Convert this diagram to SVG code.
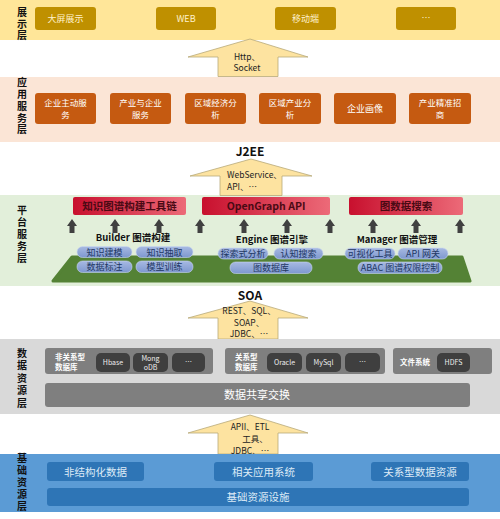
<svg xmlns="http://www.w3.org/2000/svg" width="500" height="519" viewBox="0 0 500 519">
<defs>
<linearGradient id="red" x1="0" y1="0" x2="1" y2="0">
<stop offset="0" stop-color="#C8102E"/>
<stop offset="1" stop-color="#EC6A78"/>
</linearGradient>
<linearGradient id="pill" x1="0" y1="0" x2="0" y2="1">
<stop offset="0" stop-color="#A7B9E2"/>
<stop offset="1" stop-color="#7E98CF"/>
</linearGradient>
<clipPath id="c3"><rect x="0" y="0" width="500" height="339"/></clipPath>
<clipPath id="c4"><rect x="0" y="0" width="500" height="454"/></clipPath>
<style>
text{font-family:"Noto Sans CJK SC","Noto Sans",sans-serif;}
.lbl{font-size:10px;font-weight:bold;fill:#111;writing-mode:vertical-rl;text-orientation:upright;}
.y{fill:#BF9000;}
.yt{font-size:9px;fill:#FFF2CC;text-anchor:middle;}
.o{fill:#C55A11;}
.ot{font-size:8.5px;fill:#fff;text-anchor:middle;}
.big{fill:#FDE3A0;stroke:#B8A97A;stroke-width:0.8;}
.bt{font-size:8.5px;fill:#222;text-anchor:middle;}
.hd{font-size:12px;font-weight:bold;fill:#111;text-anchor:middle;}
.rb{fill:url(#red);}
.rt{font-size:10.5px;font-weight:bold;fill:#4A0A14;text-anchor:middle;}
.sa{fill:#404040;}
.sub{font-size:9.5px;font-weight:bold;fill:#111;text-anchor:middle;}
.p{fill:url(#pill);stroke:#C9D6EE;stroke-width:0.6;}
.pt{font-size:9px;fill:#1F3864;text-anchor:middle;}
.g{fill:#7F7F7F;}
.cy{fill:#3F3F3F;}
.gt{font-size:7px;fill:#eee;text-anchor:middle;}
.gl{font-size:7.5px;font-weight:bold;fill:#fff;}
.bb{fill:#2E75B6;}
.btx{font-size:10.5px;fill:#DDEBF7;text-anchor:middle;}
</style>
</defs>

<!-- layer backgrounds -->
<g id="layer-display">
<rect x="0" y="0" width="500" height="40" fill="#FFE699"/>
<text class="lbl" x="22" y="7" style="letter-spacing:1.75px">展示层</text>
</g>
<g id="layer-app">
<rect x="0" y="77" width="500" height="65" fill="#FBE5D6"/>
<text class="lbl" x="22" y="77.5" style="letter-spacing:1.75px">应用服务层</text>
</g>
<g id="layer-platform">
<rect x="0" y="195" width="500" height="91" fill="#E2EFDA"/>
<text class="lbl" x="22" y="205" style="letter-spacing:2px">平台服务层</text>
<polygon points="72,257 462,257 470,281 53,281" fill="#548235" stroke="#548235" stroke-width="3" stroke-linejoin="round"/>
</g>
<g id="layer-data">
<rect x="0" y="339" width="500" height="75" fill="#D9D9D9"/>
<text class="lbl" x="22" y="348" style="letter-spacing:2.5px">数据资源层</text>
</g>
<g id="layer-base">
<rect x="0" y="454" width="500" height="58" fill="#5B9BD5"/>
<text class="lbl" x="22" y="453" style="letter-spacing:2px">基础资源层</text>
</g>

<!-- display layer nodes -->
<g id="n-dapin"><rect class="y" x="35" y="7" width="61" height="23" rx="3"/><text class="yt" x="65.5" y="22">大屏展示</text></g>
<g id="n-web"><rect class="y" x="156" y="7" width="60" height="23" rx="3"/><text class="yt" x="186" y="22">WEB</text></g>
<g id="n-mobile"><rect class="y" x="275" y="7" width="61" height="23" rx="3"/><text class="yt" x="305.5" y="22">移动端</text></g>
<g id="n-more1"><rect class="y" x="396" y="7" width="60" height="23" rx="3"/><text class="yt" x="426" y="21">…</text></g>

<!-- application layer nodes -->
<g id="n-app1"><rect class="o" x="35" y="93" width="61" height="31" rx="3"/><text class="ot" x="65.5" y="105.5">企业主动服<tspan x="65.5" dy="12.5">务</tspan></text></g>
<g id="n-app2"><rect class="o" x="110" y="93" width="61" height="31" rx="3"/><text class="ot" x="140.5" y="105.5">产业与企业<tspan x="140.5" dy="12.5">服务</tspan></text></g>
<g id="n-app3"><rect class="o" x="185" y="93" width="61" height="31" rx="3"/><text class="ot" x="215.5" y="105.5">区域经济分<tspan x="215.5" dy="12.5">析</tspan></text></g>
<g id="n-app4"><rect class="o" x="259" y="93" width="62" height="31" rx="3"/><text class="ot" x="290" y="105.5">区域产业分<tspan x="290" dy="12.5">析</tspan></text></g>
<g id="n-app5"><rect class="o" x="334" y="93" width="62" height="31" rx="3"/><text class="ot" x="365" y="112" style="font-size:9px">企业画像</text></g>
<g id="n-app6"><rect class="o" x="409" y="93" width="62" height="31" rx="3"/><text class="ot" x="440" y="105.5">产业精准招<tspan x="440" dy="12.5">商</tspan></text></g>

<!-- platform layer nodes -->
<g id="n-toolchain"><rect class="rb" x="73" y="197" width="113" height="18" rx="2"/><text class="rt" x="129.5" y="210">知识图谱构建工具链</text></g>
<g id="n-opengraph"><rect class="rb" x="202" y="197" width="128" height="18" rx="2"/><text class="rt" x="266" y="210">OpenGraph API</text></g>
<g id="n-search"><rect class="rb" x="349" y="197" width="114" height="18" rx="2"/><text class="rt" x="406" y="210">图数据搜索</text></g>

<g id="n-builder">
<text class="sub" x="133" y="241">Builder 图谱构建</text>
<rect class="p" x="77" y="246.5" width="55" height="11" rx="5.5"/><text class="pt" x="104.5" y="255.5">知识建模</text>
<rect class="p" x="136" y="246.5" width="57" height="11" rx="5.5"/><text class="pt" x="164.5" y="255.5">知识抽取</text>
<rect class="p" x="77" y="261" width="55" height="11.5" rx="5.5"/><text class="pt" x="104.5" y="270">数据标注</text>
<rect class="p" x="136" y="261" width="57" height="11.5" rx="5.5"/><text class="pt" x="164.5" y="270">模型训练</text>
</g>
<g id="n-engine">
<text class="sub" x="272" y="243">Engine 图谱引擎</text>
<rect class="p" x="218" y="248" width="50" height="11" rx="5.5"/><text class="pt" x="243" y="257">探索式分析</text>
<rect class="p" x="274" y="248" width="49" height="11" rx="5.5"/><text class="pt" x="298.5" y="257">认知搜索</text>
<rect class="p" x="230" y="262" width="82" height="11.5" rx="5.5"/><text class="pt" x="271" y="271">图数据库</text>
</g>
<g id="n-manager">
<text class="sub" x="397" y="243">Manager 图谱管理</text>
<rect class="p" x="345" y="248" width="50" height="11" rx="5.5"/><text class="pt" x="370" y="257">可视化工具</text>
<rect class="p" x="398" y="248" width="50" height="11" rx="5.5"/><text class="pt" x="423" y="257">API 网关</text>
<rect class="p" x="358" y="262" width="84" height="11.5" rx="5.5"/><text class="pt" x="400" y="271">ABAC 图谱权限控制</text>
</g>

<!-- data layer nodes -->
<g id="n-nosql">
<rect class="g" x="45" y="348" width="168" height="26" rx="3"/>
<text class="gl" x="55" y="360">非关系型<tspan x="55" dy="10">数据库</tspan></text>
<rect class="cy" x="96" y="353" width="34" height="19" rx="5"/><text class="gt" x="113" y="365">Hbase</text>
<rect class="cy" x="133" y="353" width="35" height="19" rx="5"/><text class="gt" x="150.5" y="361">Mong<tspan x="150.5" dy="9">oDB</tspan></text>
<rect class="cy" x="172" y="353" width="33" height="19" rx="5"/><text class="gt" x="188.5" y="364">…</text>
</g>
<g id="n-sql">
<rect class="g" x="225" y="348" width="160" height="26" rx="3"/>
<text class="gl" x="235" y="360">关系型<tspan x="235" dy="10">数据库</tspan></text>
<rect class="cy" x="267" y="353" width="35" height="19" rx="5"/><text class="gt" x="284.5" y="365">Oracle</text>
<rect class="cy" x="306" y="353" width="35" height="19" rx="5"/><text class="gt" x="323.5" y="365">MySql</text>
<rect class="cy" x="345" y="353" width="35" height="19" rx="5"/><text class="gt" x="362.5" y="364">…</text>
</g>
<g id="n-fs">
<rect class="g" x="393" y="348" width="99" height="26" rx="3"/>
<text class="gl" x="400" y="365">文件系统</text>
<rect class="cy" x="437" y="353" width="33" height="19" rx="5"/><text class="gt" x="453.5" y="365">HDFS</text>
</g>
<g id="n-exchange"><rect class="g" x="45" y="383" width="425" height="24" rx="3"/><text x="257" y="399" style="font-size:11px;fill:#fff;text-anchor:middle">数据共享交换</text></g>

<!-- base layer nodes -->
<g id="n-unstruct"><rect class="bb" x="47" y="462" width="97" height="19" rx="3"/><text class="btx" x="95.5" y="475.5">非结构化数据</text></g>
<g id="n-related"><rect class="bb" x="214" y="462" width="99" height="19" rx="3"/><text class="btx" x="263.5" y="475.5">相关应用系统</text></g>
<g id="n-relres"><rect class="bb" x="371" y="462" width="98" height="19" rx="3"/><text class="btx" x="420" y="475.5">关系型数据资源</text></g>
<g id="n-infra"><rect class="bb" x="47" y="488" width="422" height="18" rx="3"/><text class="btx" x="258" y="501">基础资源设施</text></g>

<!-- connectors -->
<g id="connectors">
<g id="a1">
<path class="big" d="M250,39 L308,57 L278,57 L278,76.5 L218,76.5 L218,57 L188,57 Z"/>
<text class="bt" x="247" y="60">Http、<tspan x="247" dy="11">Socket</tspan></text>
</g>
<text class="hd" x="250" y="156">J2EE</text>
<g id="a2">
<path class="big" d="M251,159 L312,176 L282,176 L282,195.5 L220,195.5 L220,176 L190,176 Z"/>
<text class="bt" x="227" y="178" style="text-anchor:start">WebService、<tspan x="227" dy="12">API、…</tspan></text>
</g>
<text class="hd" x="250" y="300">SOA</text>
<g id="a3" clip-path="url(#c3)">
<path class="big" d="M250,301 L308,318 L278,318 L278,339 L218,339 L218,318 L188,318 Z"/>
<text class="bt" x="249" y="314">REST、SQL、<tspan x="249" dy="11.5">SOAP、</tspan><tspan x="249" dy="11.5">JDBC、…</tspan></text>
</g>
<g id="a4" clip-path="url(#c4)">
<path class="big" d="M250,415 L308,433 L278,433 L278,454 L218,454 L218,433 L188,433 Z"/>
<text class="bt" x="250" y="430">APII、ETL<tspan x="255" dy="12">工具、</tspan><tspan x="250" dy="12">JDBC、…</tspan></text>
</g>
<g id="small-arrows" class="sa">
<path d="M72,219 L77,226 L74.5,226 L74.5,233 L69.5,233 L69.5,226 L67,226 Z"/>
<path d="M115,219 L120,226 L117.5,226 L117.5,233 L112.5,233 L112.5,226 L110,226 Z"/>
<path d="M159,219 L164,226 L161.5,226 L161.5,233 L156.5,233 L156.5,226 L154,226 Z"/>
<path d="M200,219 L205,226 L202.5,226 L202.5,233 L197.5,233 L197.5,226 L195,226 Z"/>
<path d="M244,219 L249,226 L246.5,226 L246.5,233 L241.5,233 L241.5,226 L239,226 Z"/>
<path d="M287,219 L292,226 L289.5,226 L289.5,233 L284.5,233 L284.5,226 L282,226 Z"/>
<path d="M330,219 L335,226 L332.5,226 L332.5,233 L327.5,233 L327.5,226 L325,226 Z"/>
<path d="M373,219 L378,226 L375.5,226 L375.5,233 L370.5,233 L370.5,226 L368,226 Z"/>
<path d="M416,219 L421,226 L418.5,226 L418.5,233 L413.5,233 L413.5,226 L411,226 Z"/>
<path d="M460,219 L465,226 L462.5,226 L462.5,233 L457.5,233 L457.5,226 L455,226 Z"/>
</g>
</g>
</svg>
